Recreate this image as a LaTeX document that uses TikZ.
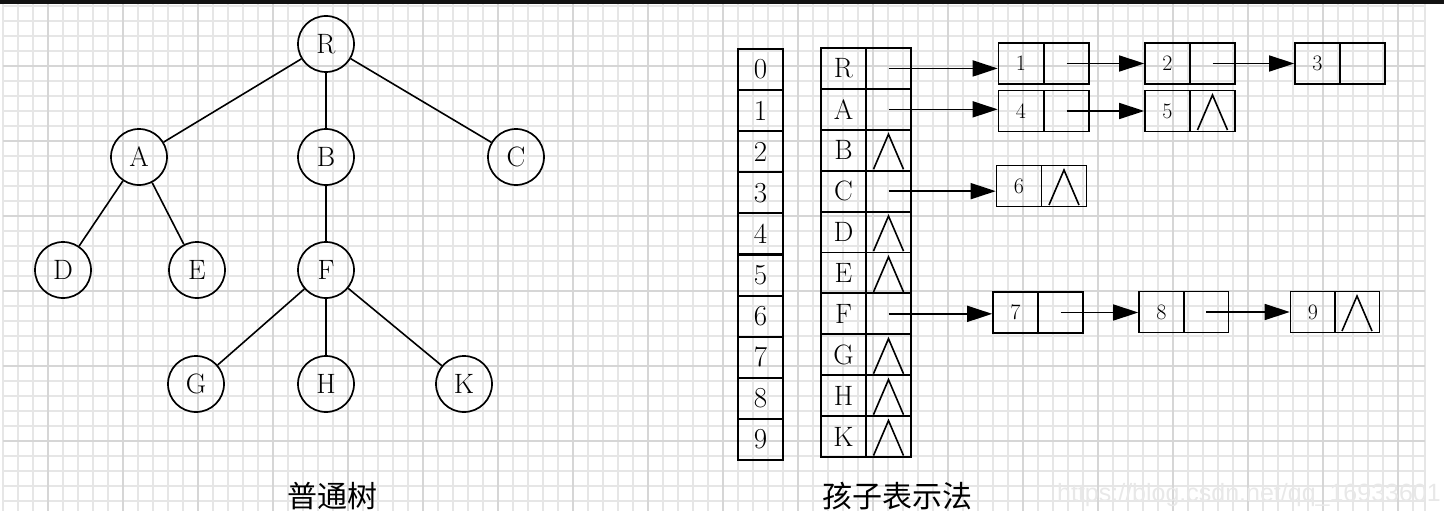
\documentclass[tikz,border=0pt]{standalone}
\usepackage{fontspec}
\newfontfamily\cjk{Noto Sans CJK SC}
\newfontfamily\markfont{Liberation Sans}
\usetikzlibrary{arrows.meta}

\definecolor{gridminor}{HTML}{E6E6E6}
\definecolor{gridmajor}{HTML}{D6D6D6}

\tikzset{
  treenode/.style={circle, draw, line width=1.7pt, minimum size=56pt, inner sep=0pt, font=\fontsize{28}{28}\selectfont},
  idxcell/.style={draw, line width=2pt, minimum width=45pt, minimum height=41pt, inner sep=0pt, font=\fontsize{29}{29}\selectfont},
  tabcell/.style={draw, line width=1.8pt, minimum width=45pt, minimum height=41pt, inner sep=0pt, font=\fontsize{28}{28}\selectfont},
  listcell/.style={draw, line width=1.6pt, minimum width=45pt, minimum height=41pt, inner sep=0pt, font=\fontsize{22}{22}\selectfont},
  ptr/.style={-{Triangle[length=25pt,width=16pt]}, line width=1.6pt},
  treeedge/.style={line width=1.6pt},
  gridline/.style={gridminor, line width=1.2pt},
  gridbold/.style={gridmajor, line width=1.3pt}
}

% null pointer wedge inside a cell
\newcommand{\nullmark}[1]{\draw[line width=1.6pt] ([xshift=-15pt,yshift=-19pt]#1.center) -- ([yshift=16pt]#1.center) -- ([xshift=15pt,yshift=-19pt]#1.center);}

\begin{document}
\begin{tikzpicture}[x=1pt,y=-1pt]
\useasboundingbox (0,0) rectangle (1444,511);

%% paper grid
\foreach \k in {0,...,94} \draw[gridline] ({3+15*\k},4) -- ({3+15*\k},511);
\draw[gridline] (1425,4) -- (1425,511);
\foreach \j in {0,...,33} \draw[gridline] (3,{6+15*\j}) -- (1425,{6+15*\j});
\foreach \k in {3,8,...,93} \draw[gridbold] ({3+15*\k},4) -- ({3+15*\k},511);
\foreach \j in {4,9,...,29} \draw[gridbold] (3,{6+15*\j}) -- (1425,{6+15*\j});
\fill[black!93] (0,0) rectangle (1444,4);

%% ordinary tree
\node[treenode] (R) at (326,44) {R};
\node[treenode] (A) at (139,157) {A};
\node[treenode] (B) at (326,157) {B};
\node[treenode] (C) at (516,157) {C};
\node[treenode] (D) at (63,270) {D};
\node[treenode] (E) at (197,270) {E};
\node[treenode] (F) at (326,270) {F};
\node[treenode] (G) at (196,384) {G};
\node[treenode] (H) at (326,384) {H};
\node[treenode] (K) at (464,384) {K};

\draw[treeedge] (R) -- (A);
\draw[treeedge] (R) -- (B);
\draw[treeedge] (R) -- (C);
\draw[treeedge] (A) -- (D);
\draw[treeedge] (A) -- (E);
\draw[treeedge] (B) -- (F);
\draw[treeedge] (F) -- (G);
\draw[treeedge] (F) -- (H);
\draw[treeedge] (F) -- (K);

\node[font=\cjk\fontsize{30}{30}\selectfont, anchor=base] (treecap) at (332,507) {普通树};

%% child list representation
\foreach \i in {0,...,9} \node[idxcell] (i\i) at (760.5,{69.5+41.1*\i}) {\i};

\foreach \l [count=\i from 0] in {R,A,B,C,D,E,F,G,H,K} {
  \node[tabcell] (d\l) at (843.5,{68.45+40.9*\i}) {\l};
  \node[tabcell] (p\l) at (888.5,{68.45+40.9*\i}) {};
}
\foreach \l in {B,D,E,G,H,K} {\nullmark{p\l}}

\node[listcell] (n1) at (1021,63.5) {1};
\node[listcell] (n1p) at (1066.5,63.5) {};
\node[listcell] (n2) at (1167.5,63.5) {2};
\node[listcell] (n2p) at (1212.5,63.5) {};
\node[listcell] (n3) at (1317.5,63.5) {3};
\node[listcell] (n3p) at (1362.5,63.5) {};

\node[listcell] (n4) at (1021,111) {4};
\node[listcell] (n4p) at (1066.5,111) {};
\node[listcell] (n5) at (1167.5,111) {5};
\node[listcell] (n5p) at (1212.5,111) {};
\nullmark{n5p}

\node[listcell] (n6) at (1019,186) {6};
\node[listcell] (n6p) at (1064,186) {};
\nullmark{n6p}

\node[listcell] (n7) at (1015.5,312.5) {7};
\node[listcell] (n7p) at (1060.5,312.5) {};
\node[listcell] (n8) at (1161.5,312) {8};
\node[listcell] (n8p) at (1206,312) {};
\node[listcell] (n9) at (1313,312) {9};
\node[listcell] (n9p) at (1357,312) {};
\nullmark{n9p}

\draw[ptr] (pR.center) -- (pR.center -| n1.west);
\draw[ptr] (n1p.center) -- (n1p.center -| n2.west);
\draw[ptr] (n2p.center) -- (n2p.center -| n3.west);
\draw[ptr] (pA.center) -- (pA.center -| n4.west);
\draw[ptr] (n4p.center) -- (n4p.center -| n5.west);
\draw[ptr] (pC.center) -- (pC.center -| n6.west);
\draw[ptr] (pF.center) -- (pF.center -| n7.west);
\draw[ptr] (n7p.center) -- (n7p.center -| n8.west);
\draw[ptr] (n8p.center) -- (n8p.center -| n9.west);

\node[font=\cjk\fontsize{30}{30}\selectfont, anchor=base] (listcap) at (897,507) {孩子表示法};

\node[font=\markfont\fontsize{25}{25}\selectfont, text=black!9, anchor=base east, inner sep=0pt] (mark) at (1441,501) {https://blog.csdn.net/qq\_16933601};

\end{tikzpicture}
\end{document}
